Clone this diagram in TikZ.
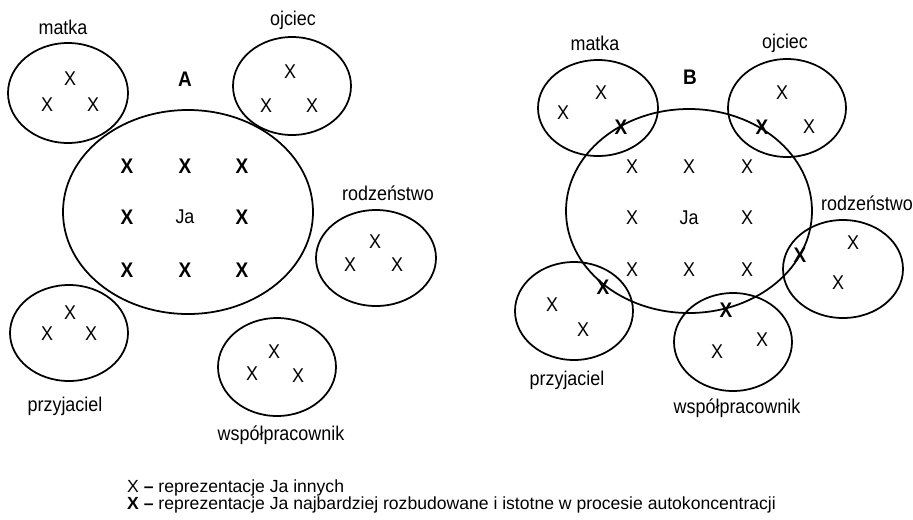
\documentclass[tikz,border=0pt]{standalone}
\usepackage{fontspec}
\setmainfont{Liberation Sans}[FakeStretch=0.9]
\newfontfamily\legfont{Liberation Sans}
\usetikzlibrary{positioning}

\tikzset{
  krag/.style={line width=1.5pt},
  etyk/.style={font=\fontsize{17}{20}\selectfont, inner sep=1pt},
  rep/.style={font=\fontsize{17}{20}\selectfont, inner sep=1pt},
  mocny/.style={font=\fontsize{18}{20}\selectfont\bfseries, inner sep=1pt},
  legenda/.style={font=\legfont\fontsize{15}{18}\selectfont, anchor=west, inner sep=0pt}
}

\begin{document}
\begin{tikzpicture}[x=0.03cm, y=-0.03cm]
	\useasboundingbox (0,0) rectangle (913,519);
	
	% --- A ---
	\node[mocny] (A) at (185,79) {A};
	\draw[krag] (188,212) ellipse (125 and 102);
	\node[rep] (jaA) at (185,217) {Ja};
	\foreach \x/\y in {127/166,185/166,242/166,127/217,242/217,127/270,185/270,242/270}
	\node[mocny] (a-\x-\y) at (\x,\y) {X};
	
	\draw[krag] (68,93) ellipse (60 and 50);
	\node[etyk] (matkaA) at (63,27) {matka};
	\node[rep] (ma1) at (70,79) {X};
	\node[rep] (ma2) at (47,105) {X};
	\node[rep] (ma3) at (93,105) {X};
	
	\draw[krag] (292,86) ellipse (59 and 49);
	\node[etyk] (ojciecA) at (293,20) {ojciec};
	\node[rep] (oa1) at (290,72) {X};
	\node[rep] (oa2) at (266,106) {X};
	\node[rep] (oa3) at (312,106) {X};
	
	\draw[krag] (376,258) ellipse (60 and 48);
	\node[etyk] (rodzA) at (388,193) {rodzeństwo};
	\node[rep] (ra1) at (375,242) {X};
	\node[rep] (ra2) at (350,265) {X};
	\node[rep] (ra3) at (397,265) {X};
	
	\draw[krag] (69,333) ellipse (59 and 48);
	\node[etyk] (przyA) at (65,406) {przyjaciel};
	\node[rep] (pa1) at (70,313) {X};
	\node[rep] (pa2) at (47,334) {X};
	\node[rep] (pa3) at (91,334) {X};
	
	\draw[krag] (277,367) ellipse (59 and 49);
	\node[etyk] (wspA) at (281,435) {współpracownik};
	\node[rep] (wa1) at (274,352) {X};
	\node[rep] (wa2) at (252,374) {X};
	\node[rep] (wa3) at (298,376) {X};
	
	% --- B ---
	\node[mocny] (B) at (690,77) {B};
	\draw[krag] (689,211) ellipse (123 and 102);
	\node[rep] (jaB) at (689,218) {Ja};
	\foreach \x/\y in {632/167,689/167,747/167,632/218,747/218,632/270,689/270,747/270}
	\node[rep] (b-\x-\y) at (\x,\y) {X};
	
	\draw[krag] (598,108) ellipse (60 and 48);
	\node[etyk] (matkaB) at (595,43) {matka};
	\node[rep] (mb1) at (601,93) {X};
	\node[rep] (mb2) at (563,113) {X};
	\node[mocny] (mb3) at (621,127) {X};
	
	\draw[krag] (787,108) ellipse (59 and 49);
	\node[etyk] (ojciecB) at (785,43) {ojciec};
	\node[rep] (ob1) at (782,93) {X};
	\node[rep] (ob2) at (809,127) {X};
	\node[mocny] (ob3) at (762,127) {X};
	
	\draw[krag] (843,269) ellipse (60 and 49);
	\node[etyk] (rodzB) at (867,203) {rodzeństwo};
	\node[rep] (rb1) at (853,243) {X};
	\node[rep] (rb2) at (838,283) {X};
	\node[mocny] (rb3) at (800,255) {X};
	
	\draw[krag] (574,311) ellipse (59 and 49);
	\node[etyk] (przyB) at (567,380) {przyjaciel};
	\node[rep] (pb1) at (552,305) {X};
	\node[rep] (pb2) at (583,330) {X};
	\node[mocny] (pb3) at (603,287) {X};
	
	\draw[krag] (733,342) ellipse (59 and 49);
	\node[etyk] (wspB) at (737,408) {współpracownik};
	\node[mocny] (wb1) at (726,310) {X};
	\node[rep] (wb2) at (717,352) {X};
	\node[rep] (wb3) at (762,340) {X};
	
	% legenda
	\node[legenda] (leg1) at (127,488) {X \textbf{–} reprezentacje Ja innych};
	\node[legenda] (leg2) at (127,505) {\textbf{X –} reprezentacje Ja najbardziej rozbudowane i istotne w procesie autokoncentracji};
\end{tikzpicture}
\end{document}
